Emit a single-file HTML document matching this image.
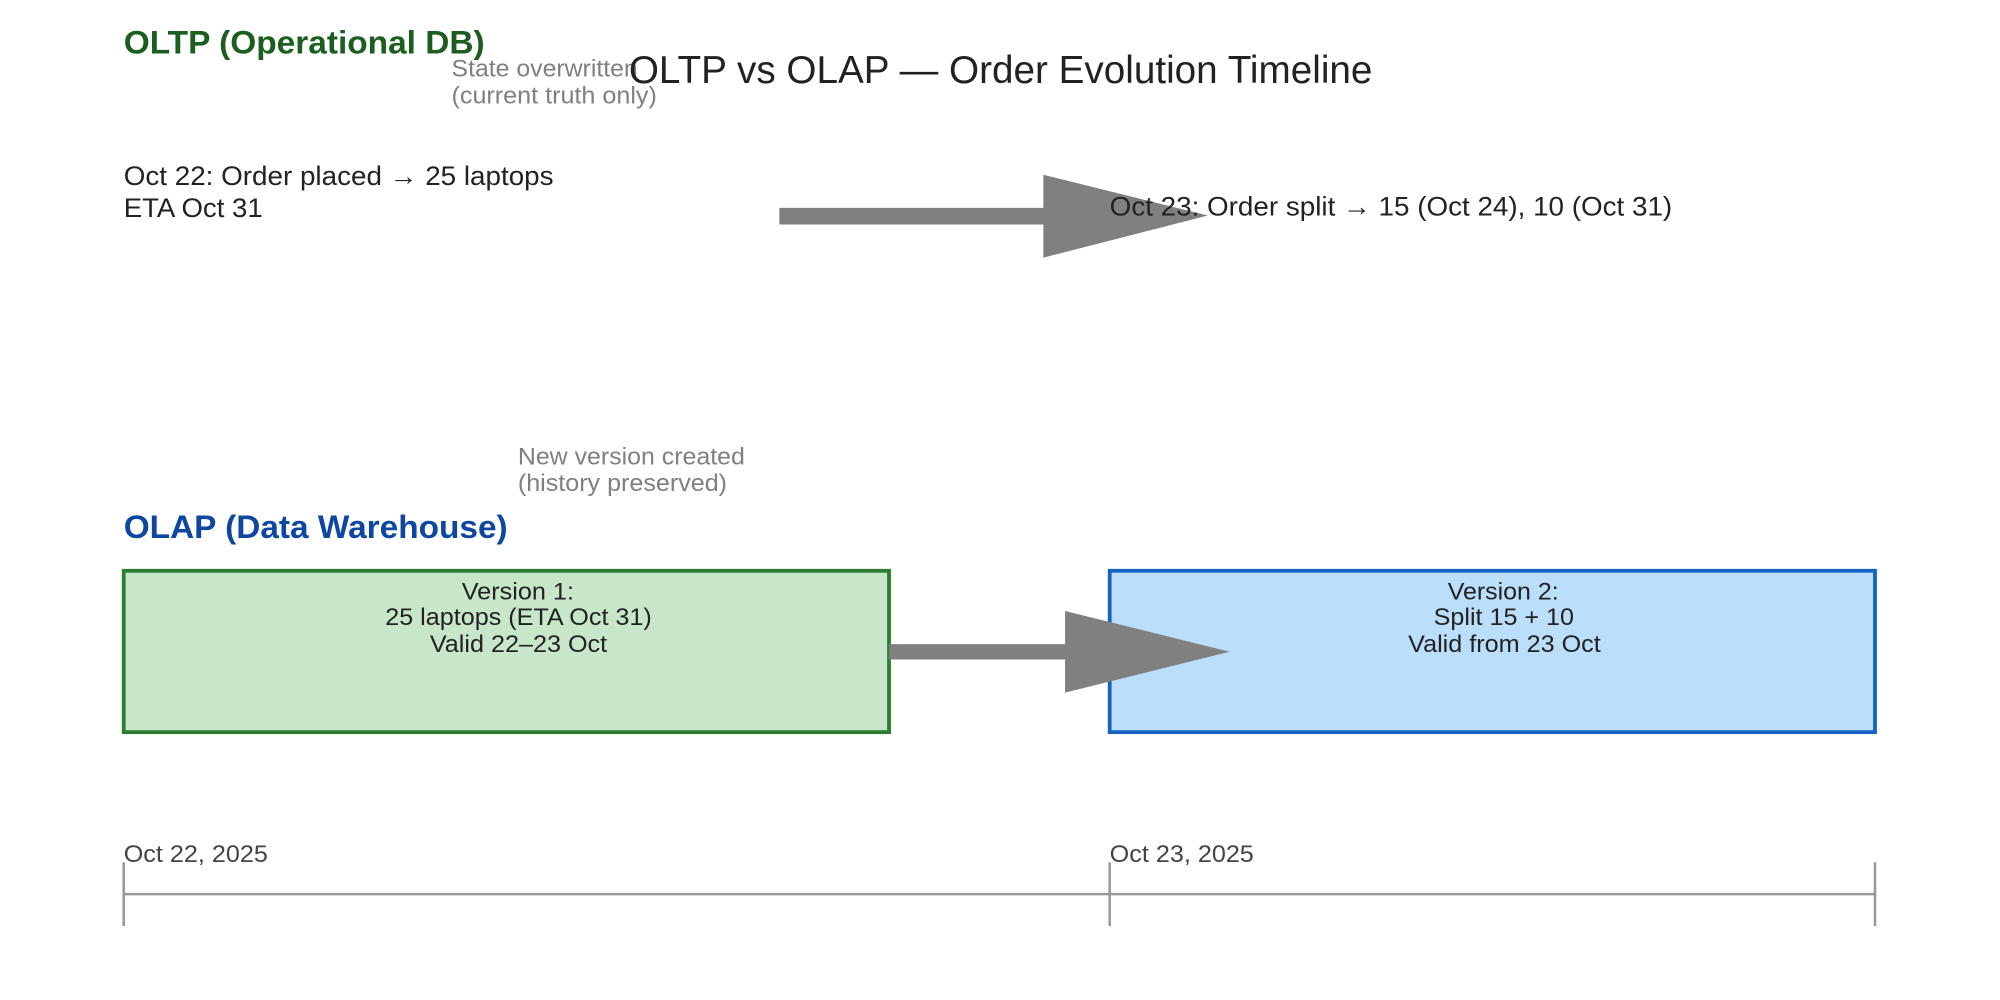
<!DOCTYPE html>
<html><head><meta charset="utf-8"><style>
html,body{margin:0;padding:0;background:#fff;width:2000px;height:1000px;overflow:hidden}
svg{display:block}
text{font-family:"Liberation Sans",Arial,sans-serif}
</style></head><body>
<svg width="2000" height="1000" viewBox="0 0 1568 784" xmlns="http://www.w3.org/2000/svg">
<rect width="1568" height="784" fill="#fff"/>
<text x="97" y="42" font-size="25.5" font-weight="bold" fill="#1b5e20" textLength="283" lengthAdjust="spacingAndGlyphs">OLTP (Operational DB)</text>
<text x="354" y="60" font-size="19" fill="#808080" textLength="146" lengthAdjust="spacingAndGlyphs">State overwritten</text>
<text x="354" y="81" font-size="19" fill="#808080" textLength="161" lengthAdjust="spacingAndGlyphs">(current truth only)</text>
<text x="493" y="65" font-size="30.5" fill="#222" textLength="583" lengthAdjust="spacingAndGlyphs">OLTP vs OLAP — Order Evolution Timeline</text>
<text x="97" y="145" font-size="21" fill="#222" textLength="337" lengthAdjust="spacingAndGlyphs">Oct 22: Order placed → 25 laptops</text>
<text x="97" y="170" font-size="21" fill="#222" textLength="109" lengthAdjust="spacingAndGlyphs">ETA Oct 31</text>
<polygon points="611,163 818,163 818,137 947,169 818,202 818,176 611,176" fill="#808080"/>
<text x="870" y="169" font-size="21" fill="#222" textLength="441" lengthAdjust="spacingAndGlyphs">Oct 23: Order split → 15 (Oct 24), 10 (Oct 31)</text>
<text x="406" y="364" font-size="19" fill="#808080" textLength="178" lengthAdjust="spacingAndGlyphs">New version created</text>
<text x="406" y="385" font-size="19" fill="#808080" textLength="164" lengthAdjust="spacingAndGlyphs">(history preserved)</text>
<text x="97" y="422" font-size="25.5" font-weight="bold" fill="#0d47a1" textLength="301" lengthAdjust="spacingAndGlyphs">OLAP (Data Warehouse)</text>
<rect x="97" y="447.5" width="600" height="126.5" fill="#c8e6c9" stroke="#2e7d32" stroke-width="3"/>
<rect x="870" y="447.5" width="600" height="126.5" fill="#bbdefb" stroke="#1565c0" stroke-width="3"/>
<g font-size="19" fill="#222">
<text x="362" y="470" textLength="88" lengthAdjust="spacingAndGlyphs">Version 1:</text>
<text x="302" y="490" textLength="209" lengthAdjust="spacingAndGlyphs">25 laptops (ETA Oct 31)</text>
<text x="337" y="511" textLength="139" lengthAdjust="spacingAndGlyphs">Valid 22–23 Oct</text>
<text x="1135" y="470" textLength="87" lengthAdjust="spacingAndGlyphs">Version 2:</text>
<text x="1124" y="490" textLength="110" lengthAdjust="spacingAndGlyphs">Split 15 + 10</text>
<text x="1104" y="511" textLength="151" lengthAdjust="spacingAndGlyphs">Valid from 23 Oct</text>
</g>
<polygon points="697,505 835,505 835,479 964,511 835,543 835,517 697,517" fill="#808080"/>
<g stroke="#999" stroke-width="2">
<line x1="97" y1="701" x2="1470" y2="701"/>
<line x1="97" y1="676" x2="97" y2="726"/>
<line x1="870" y1="676" x2="870" y2="726"/>
<line x1="1470" y1="676" x2="1470" y2="726"/>
</g>
<text x="97" y="676" font-size="19" fill="#444" textLength="113" lengthAdjust="spacingAndGlyphs">Oct 22, 2025</text>
<text x="870" y="676" font-size="19" fill="#444" textLength="113" lengthAdjust="spacingAndGlyphs">Oct 23, 2025</text>
</svg>
</body></html>
